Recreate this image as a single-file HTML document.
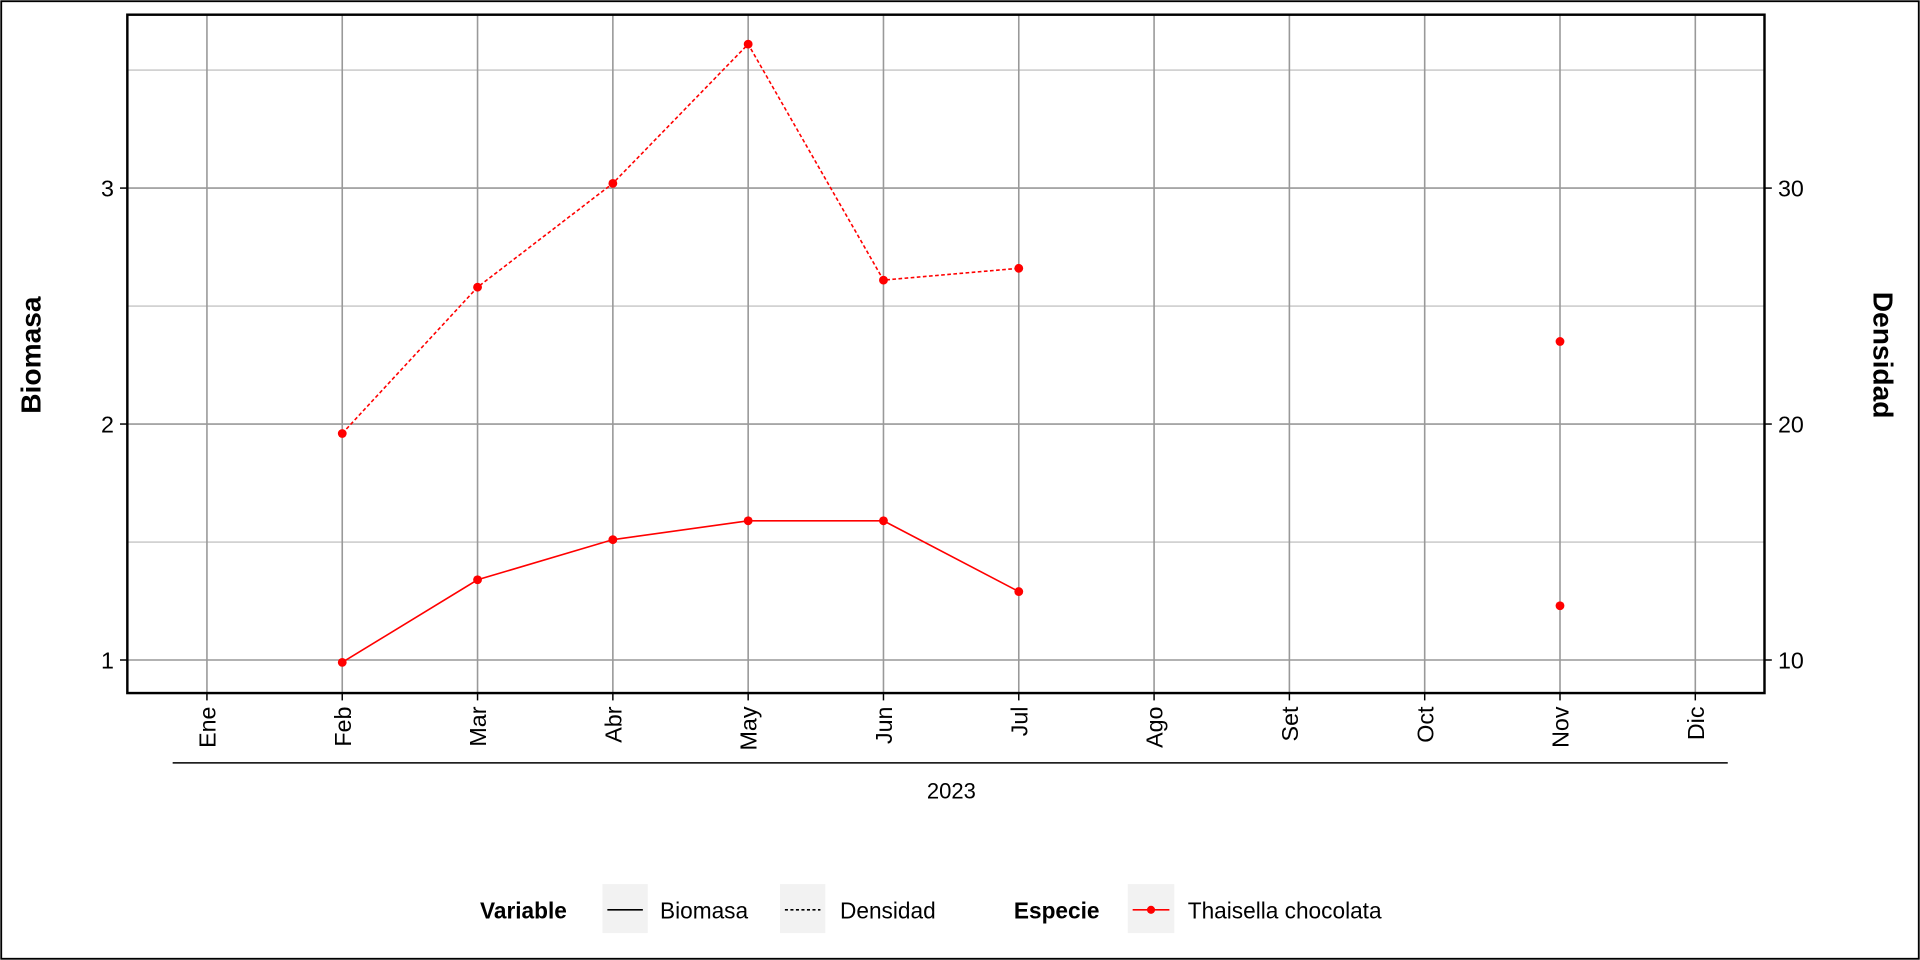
<!DOCTYPE html>
<html><head><meta charset="utf-8"><style>
html,body{margin:0;padding:0;background:#fff;}
svg{display:block;font-family:"Liberation Sans",Arial,sans-serif;}
</style></head><body>
<svg id="chart" width="1920" height="960" viewBox="0 0 1568 784">
<rect x="1" y="1" width="1566" height="782" fill="#fff" stroke="#000" stroke-width="1.5"/>
<g id="grid"></g>
<g id="series"></g>
<rect x="104" y="12" width="1337" height="554" fill="none" stroke="#000" stroke-width="2"/>
<g id="axes"></g>
<text x="33" y="290" transform="rotate(-90 33 290)" text-anchor="middle" font-size="23" font-weight="bold">Biomasa</text>
<text x="1530" y="290" transform="rotate(90 1530 290)" text-anchor="middle" font-size="23" font-weight="bold">Densidad</text>
<line x1="141" y1="623" x2="1411" y2="623" stroke="#000" stroke-width="1.2"/>
<text x="777" y="652" text-anchor="middle" font-size="18">2023</text>
<g>
<text x="392" y="750" font-size="18.5" font-weight="bold">Variable</text>
<rect x="492" y="722" width="37" height="40" fill="#f2f2f2"/>
<line x1="496" y1="743" x2="525" y2="743" stroke="#000" stroke-width="1.3"/>
<text x="539" y="750" font-size="18.5">Biomasa</text>
<rect x="637" y="722" width="37" height="40" fill="#f2f2f2"/>
<line x1="641" y1="743" x2="670" y2="743" stroke="#000" stroke-width="1.3" stroke-dasharray="2.5,2"/>
<text x="686" y="750" font-size="18.5">Densidad</text>
<text x="828" y="750" font-size="18.5" font-weight="bold">Especie</text>
<rect x="921" y="722" width="38" height="40" fill="#f2f2f2"/>
<line x1="925" y1="743" x2="955" y2="743" stroke="#f00" stroke-width="1.3"/>
<circle cx="940" cy="743" r="3.3" fill="#f00"/>
<text x="970" y="750" font-size="18.5">Thaisella chocolata</text>
</g>
</svg>
<script>
const months = ["Ene","Feb","Mar","Abr","May","Jun","Jul","Ago","Set","Oct","Nov","Dic"];
const biomasa = [null,0.99,1.34,1.51,1.59,1.59,1.29,null,null,null,1.23,null];
const densidad = [null,19.6,25.8,30.2,36.1,26.1,26.6,null,null,null,23.5,null];
const leftTicks = [1,2,3];
const rightTicks = [10,20,30];
const leftMinor = [1.5,2.5,3.5];

const NS="http://www.w3.org/2000/svg";
const xS = i => 169 + i*110.5;
const yL = v => 539 - (v-1)*192.7;
const yR = v => yL(v/10);
function mk(tag, attrs, parent){const e=document.createElementNS(NS,tag);for(const k in attrs)e.setAttribute(k,attrs[k]);document.getElementById(parent).appendChild(e);return e;}

leftMinor.forEach(v=>{const e=mk('line',{x1:104,x2:1441,y1:yL(v),y2:yL(v),stroke:'#b8b8b8','stroke-width':0.9},'grid');

});
leftTicks.forEach(v=>{const e=mk('line',{x1:104,x2:1441,y1:yL(v),y2:yL(v),stroke:'#999','stroke-width':1.3},'grid');

});
months.forEach((m,i)=>{const e=mk('line',{x1:xS(i),x2:xS(i),y1:12,y2:566,stroke:'#999','stroke-width':1.3},'grid');

});

leftTicks.forEach(v=>{
 mk('line',{x1:98,x2:104,y1:yL(v),y2:yL(v),stroke:'#000','stroke-width':1.2},'axes');
 const t=mk('text',{x:93,y:yL(v)+7,'text-anchor':'end','font-size':19},'axes');t.textContent=v;
 
 });
rightTicks.forEach(v=>{
 mk('line',{x1:1441,x2:1447,y1:yR(v),y2:yR(v),stroke:'#000','stroke-width':1.2},'axes');
 const t=mk('text',{x:1452,y:yR(v)+7,'font-size':19},'axes');t.textContent=v;
 
 });
months.forEach((m,i)=>{
 mk('line',{x1:xS(i),x2:xS(i),y1:566,y2:572,stroke:'#000','stroke-width':1.2},'axes');
 const x=xS(i)+7,y=577;
 const t=mk('text',{x:x,y:y,'text-anchor':'end','font-size':19,transform:`rotate(-90 ${x} ${y})`},'axes');t.textContent=m;
 
 });

function drawSeries(vals, yf, dash, name){
 let seg=[];
 const segs=[];
 vals.forEach((v,i)=>{if(v==null){if(seg.length)segs.push(seg);seg=[];}else seg.push([xS(i),yf(v)]);});
 if(seg.length)segs.push(seg);
 segs.forEach(s=>{if(s.length>1){const p=mk('path',{d:'M'+s.map(q=>q.join(',')).join('L'),fill:'none',stroke:'#f00','stroke-width':1.3,'stroke-dasharray':dash},'series');
  
  }});
 vals.forEach((v,i)=>{if(v!=null){const c=mk('circle',{cx:xS(i),cy:yf(v),r:3.6,fill:'#f00'},'series');
  
  }});
}
drawSeries(biomasa,yL,'none','biomasa');
drawSeries(densidad,yR,'3,2','densidad');
</script>
</body></html>
